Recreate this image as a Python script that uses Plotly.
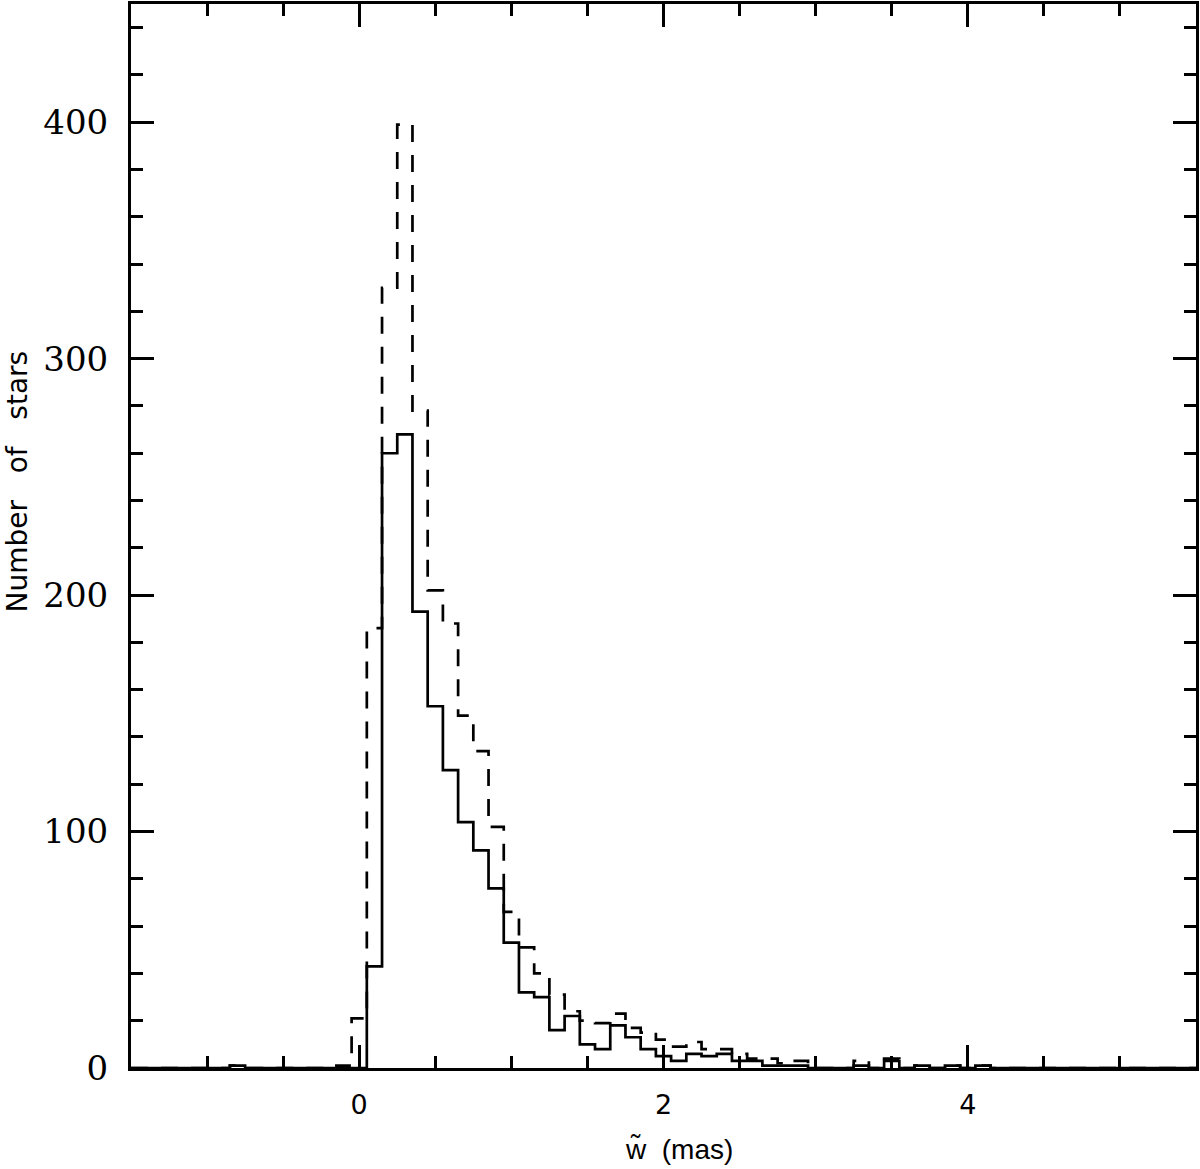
import plotly.graph_objects as go

# Bin centres (mas), bin width 0.1
bin_start = -0.8
bin_width = 0.1
# Counts per bin, centres -0.8, -0.7, ..., 4.1
solid_counts = [1, 0, 0, 0, 0, 0, 0,            # -0.8 .. -0.2
                0, 0, 43, 260, 268, 193, 153, 126, 104, 92,   # -0.1 .. 0.8
                76, 53, 32, 30, 16, 22, 10, 8, 18, 13,        # 0.9 .. 1.8
                8, 5, 3, 6, 5, 6, 3, 3, 1, 1,                 # 1.9 .. 2.8
                1, 0, 0, 0, 1, 0, 3, 0, 1, 0,                 # 2.9 .. 3.8
                1, 0, 1]                                      # 3.9 .. 4.1
dashed_counts = [1, 0, 0, 0, 0, 0, 0,
                 1, 21, 186, 330, 399, 278, 202, 188, 149, 134,
                 102, 66, 51, 40, 31, 24, 20, 19, 23, 17,
                 15, 12, 9, 11, 8, 8, 6, 4, 4, 2,
                 3, 0, 0, 0, 3, 0, 4, 0, 1, 0,
                 1, 0, 1]

x_range = [-1.5, 5.5]
y_range = [0, 450]
x_ticks = [0, 2, 4]
y_ticks = [0, 100, 200, 300, 400]


def step_xy(counts):
    edges = [bin_start - bin_width / 2 + i * bin_width for i in range(len(counts) + 1)]
    xs = [x_range[0]] + edges[:-1] + [edges[-1], x_range[1]]
    ys = [0] + list(counts) + [0, 0]
    return xs, ys


fig = go.Figure()
xs, ys = step_xy(dashed_counts)
fig.add_trace(go.Scatter(x=xs, y=ys, mode="lines", line_shape="hv",
                         line=dict(color="black", width=2.7, dash="17px,13px"),
                         showlegend=False, hoverinfo="skip"))
xs, ys = step_xy(solid_counts)
fig.add_trace(go.Scatter(x=xs, y=ys, mode="lines", line_shape="hv",
                         line=dict(color="black", width=2.7),
                         showlegend=False, hoverinfo="skip"))
# empty trace so that the mirrored (top/right) tick axes are drawn
fig.add_trace(go.Scatter(x=[], y=[], xaxis="x2", yaxis="y2", showlegend=False,
                         hoverinfo="skip"))

tick_common = dict(showgrid=False, zeroline=False, ticks="inside", ticklen=23,
                   tickwidth=2.5, tickcolor="black")

fig.update_layout(
    xaxis=dict(range=x_range, tickvals=x_ticks, ticktext=[str(v) for v in x_ticks],
               tickfont=dict(family="DejaVu Sans", size=27, color="black"),
               ticklabelstandoff=11, showline=True, linecolor="black", linewidth=3,
               mirror=True,
               minor=dict(dtick=0.5, tick0=0, ticks="inside", ticklen=12,
                          tickwidth=2.5, tickcolor="black"),
               **tick_common),
    yaxis=dict(range=y_range, tickvals=y_ticks, ticktext=[str(v) for v in y_ticks],
               tickfont=dict(family="DejaVu Serif", size=34, color="black"),
               ticklabelstandoff=13, showline=True, linecolor="black", linewidth=3,
               mirror=True,
               minor=dict(dtick=20, tick0=0, ticks="inside", ticklen=12,
                          tickwidth=2.5, tickcolor="black"),
               **tick_common),
    xaxis2=dict(range=x_range, tickvals=x_ticks, overlaying="x", side="top",
                anchor="y2", showticklabels=False, showline=False,
                minor=dict(dtick=0.5, tick0=0, ticks="inside", ticklen=12,
                           tickwidth=2.5, tickcolor="black"),
                **tick_common),
    yaxis2=dict(range=y_range, tickvals=y_ticks, overlaying="y", side="right",
                anchor="x2", showticklabels=False, showline=False,
                minor=dict(dtick=20, tick0=0, ticks="inside", ticklen=12,
                           tickwidth=2.5, tickcolor="black"),
                **tick_common),
)

fig.add_annotation(text="w\u0303  (mas)", xref="paper", yref="paper",
                   x=0.5145, y=-0.077, xanchor="center", yanchor="middle",
                   showarrow=False, font=dict(family="Liberation Sans", size=28, color="black"))
fig.add_annotation(text="Number   of   stars", xref="paper", yref="paper",
                   x=-0.1063, y=0.551, xanchor="center", yanchor="middle", textangle=-90,
                   showarrow=False, font=dict(family="DejaVu Sans", size=28, color="black"))

fig.update_layout(width=1200, height=1169, margin=dict(l=131, r=2, t=1, b=101),
                  plot_bgcolor="white", paper_bgcolor="white")

fig.write_html("out.html", config={"displayModeBar": False},
               post_script="document.body.style.margin='0px';")
